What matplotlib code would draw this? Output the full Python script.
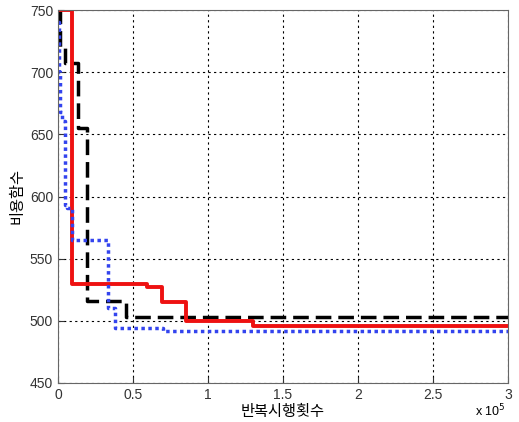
import numpy as np
import matplotlib
matplotlib.use("Agg")
import matplotlib.pyplot as plt
from matplotlib.ticker import FuncFormatter

plt.rcParams['font.family'] = ['Liberation Sans', 'Noto Sans CJK KR', 'DejaVu Sans']

# 반복시행횟수 / 비용함수 (계단형 수렴 곡선)
red_x = [0, 9000, 59000, 69000, 85000, 130000, 300000]
red_y = [750, 530, 527, 515, 500, 496, 496]

black_x = [0, 1500, 4500, 13000, 19000, 45000, 300000]
black_y = [750, 720, 707, 655, 516, 503, 503]

blue_x = [0, 500, 1000, 2500, 4700, 6000, 9300, 33000, 38000, 70000, 300000]
blue_y = [740, 700, 668, 661, 593, 591, 565, 510, 494, 492, 492]

xticks = [0, 50000, 100000, 150000, 200000, 250000, 300000]
yticks = [450, 500, 550, 600, 650, 700, 750]

fig = plt.figure(figsize=(5.19, 4.22), dpi=100)
ax = fig.add_axes([58/519, 1 - 383/422, 450/519, 373/422])

ax.plot(black_x, black_y, color='black', lw=2.5, ls=(0, (4.5, 2)), drawstyle='steps-post')
ax.plot(red_x, red_y, color='#ee1111', lw=2.8, drawstyle='steps-post')
ax.plot(blue_x, blue_y, color='#3344ee', lw=2.5, ls=(0, (1, 1)), drawstyle='steps-post')

ax.set_xlim(0, 300000)
ax.set_ylim(450, 750)
ax.set_xticks(xticks)
ax.set_yticks(yticks)
ax.xaxis.set_major_formatter(FuncFormatter(lambda v, p: '%g' % (v / 1e5)))
ax.grid(True, color='black', ls=(0, (2, 3)), lw=0.8)
ax.tick_params(direction='in', labelsize=10, colors='#333333', length=4)
for s in ax.spines.values():
    s.set_color('#666666')

ax.set_xlabel('반복시행횟수', fontsize=11, labelpad=2)
ax.set_ylabel('비용함수', fontsize=11, labelpad=4)
fig.text(506/519, 1 - 403/422, 'x 10$^5$', ha='right', va='top', fontsize=9)

fig.savefig('out.png', dpi=100)
